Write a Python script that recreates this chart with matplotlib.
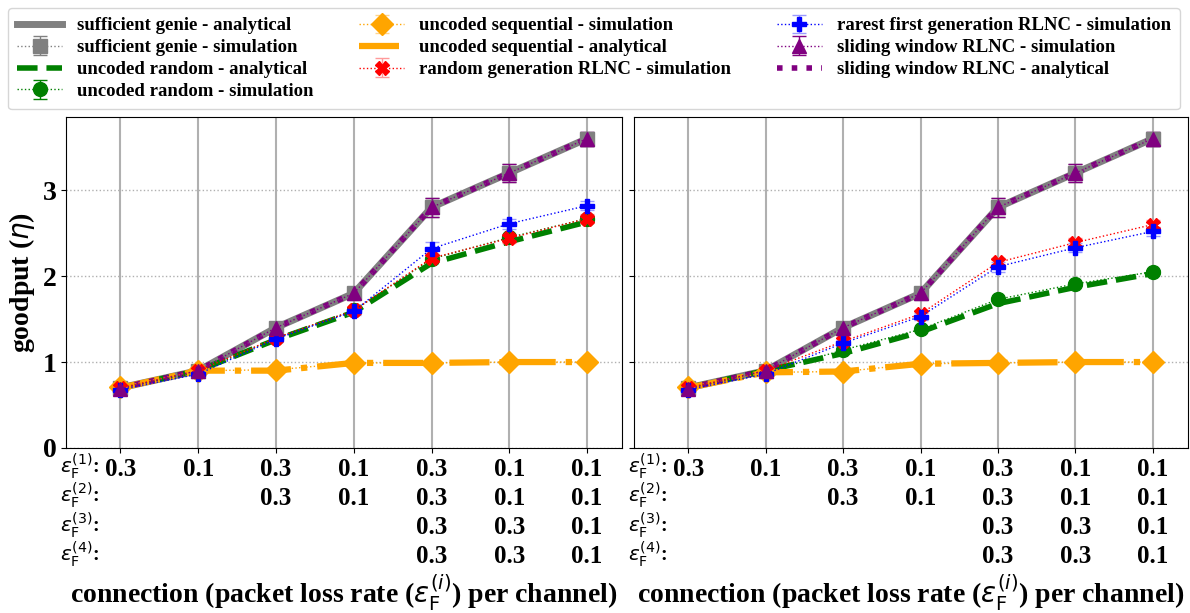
import numpy as np
import matplotlib
matplotlib.use('Agg')
import matplotlib.pyplot as plt

plt.rcParams['font.family'] = ['Liberation Serif', 'DejaVu Serif']
plt.rcParams['mathtext.fontset'] = 'dejavusans'

# connections (one tick per connection, rows = channels)
tick_labels = ['0.3', '0.1', '0.3\n0.3', '0.1\n0.1',
               '0.3\n0.3\n0.3\n0.3', '0.1\n0.1\n0.3\n0.3', '0.1\n0.1\n0.1\n0.1']
row_labels = [r'$\varepsilon_\mathrm{F}^{(1)}$:', r'$\varepsilon_\mathrm{F}^{(2)}$:',
              r'$\varepsilon_\mathrm{F}^{(3)}$:', r'$\varepsilon_\mathrm{F}^{(4)}$:']

# left panel
genie_L = [0.70, 0.90, 1.40, 1.80, 2.80, 3.20, 3.60]
genie_err_L = [0.02, 0.03, 0.05, 0.05, 0.11, 0.10, 0.08]
rand_ana_L = [0.70, 0.90, 1.26, 1.58, 2.15, 2.40, 2.63]
rand_sim_L = [0.70, 0.88, 1.28, 1.60, 2.20, 2.45, 2.67]
seq_sim_L = [0.71, 0.90, 0.91, 0.99, 0.99, 1.00, 1.00]
seq_ana_L = [0.70, 0.90, 0.90, 0.99, 0.99, 1.00, 1.00]
rg_sim_L = [0.70, 0.90, 1.28, 1.60, 2.21, 2.44, 2.67]
rg_err_L = [0.02, 0.03, 0.04, 0.04, 0.05, 0.05, 0.05]
rf_sim_L = [0.68, 0.86, 1.27, 1.59, 2.32, 2.61, 2.82]
rf_err_L = [0.02, 0.03, 0.04, 0.04, 0.08, 0.06, 0.05]
sw_sim_L = [0.69, 0.90, 1.40, 1.80, 2.80, 3.20, 3.60]
sw_ana_L = [0.70, 0.90, 1.40, 1.80, 2.80, 3.20, 3.60]

# right panel
genie_R = [0.70, 0.90, 1.40, 1.80, 2.80, 3.20, 3.60]
genie_err_R = [0.02, 0.03, 0.05, 0.05, 0.11, 0.10, 0.08]
rand_ana_R = [0.70, 0.90, 1.10, 1.35, 1.68, 1.87, 2.03]
rand_sim_R = [0.70, 0.88, 1.14, 1.38, 1.73, 1.91, 2.05]
seq_sim_R = [0.71, 0.88, 0.89, 0.98, 0.99, 1.00, 1.00]
seq_ana_R = [0.70, 0.88, 0.89, 0.98, 0.99, 1.00, 1.00]
rg_sim_R = [0.70, 0.90, 1.24, 1.56, 2.16, 2.39, 2.60]
rg_err_R = [0.02, 0.03, 0.04, 0.04, 0.05, 0.05, 0.05]
rf_sim_R = [0.68, 0.86, 1.22, 1.53, 2.11, 2.33, 2.52]
rf_err_R = [0.02, 0.03, 0.04, 0.04, 0.06, 0.05, 0.05]
sw_sim_R = [0.69, 0.90, 1.40, 1.80, 2.80, 3.20, 3.60]
sw_ana_R = [0.70, 0.90, 1.40, 1.80, 2.80, 3.20, 3.60]

x = np.arange(len(tick_labels))

fig = plt.figure(figsize=(11.9, 6.13), dpi=100)
axL = fig.add_axes([0.0555, 0.2692, 0.4672, 0.5397])
axR = fig.add_axes([0.5328, 0.2692, 0.4652, 0.5397], sharey=axL)


def draw(ax, genie, genie_err, rand_ana, rand_sim, seq_sim, seq_ana,
         rg_sim, rg_err, rf_sim, rf_err, sw_sim, sw_ana):
    h = []
    h += ax.plot(x, genie, color='gray', lw=5, ls='-', label='sufficient genie - analytical')
    h.append(ax.errorbar(x, genie, yerr=genie_err, color='gray', ls=':', lw=1, marker='s',
                         ms=10, capsize=5, label='sufficient genie - simulation'))
    h += ax.plot(x, rand_ana, color='green', lw=4, ls='--', label='uncoded random - analytical')
    h.append(ax.errorbar(x, rand_sim, yerr=0.02, color='green', ls=':', lw=1, marker='o',
                         ms=10, capsize=5, label='uncoded random - simulation'))
    h.append(ax.errorbar(x, seq_sim, yerr=0.02, color='orange', ecolor='#ffd58a', ls=':',
                         lw=1, marker='D', ms=11, capsize=5,
                         label='uncoded sequential - simulation'))
    h += ax.plot(x, seq_ana, color='orange', lw=4.5, ls='-.',
                 label='uncoded sequential - analytical')
    h.append(ax.errorbar(x, rg_sim, yerr=rg_err, color='red', ecolor='#ff9a9a', ls=':', lw=1,
                         marker='X', ms=10, capsize=5,
                         label='random generation RLNC - simulation'))
    h.append(ax.errorbar(x, rf_sim, yerr=rf_err, color='blue', ecolor='#9a9aff', ls=':', lw=1,
                         marker='P', ms=10, capsize=5,
                         label='rarest first generation RLNC - simulation'))
    h.append(ax.errorbar(x, sw_sim, yerr=genie_err, color='purple', ls=':', lw=1, marker='^',
                         ms=10, capsize=5, label='sliding window RLNC - simulation'))
    h += ax.plot(x, sw_ana, color='purple', lw=4, ls=':', label='sliding window RLNC - analytical')

    ax.set_xlim(-0.7, 6.45)
    ax.set_ylim(0, 3.85)
    ax.set_xticks(x)
    ax.set_xticklabels(tick_labels, fontsize=18, fontweight='bold', linespacing=1.33)
    ax.set_yticks([0, 1, 2, 3])
    ax.set_yticklabels(['0', '1', '2', '3'], fontsize=20, fontweight='bold')
    ax.grid(axis='x', color='#b0b0b0', lw=1.5, ls='-')
    ax.grid(axis='y', color='#b0b0b0', lw=1, ls=':')
    ax.set_axisbelow(True)
    ax.set_xlabel(r'connection (packet loss rate ($\varepsilon_\mathrm{F}^{(i)}$) per channel)',
                  fontsize=20, fontweight='bold', va='center')
    ax.xaxis.set_label_coords(0.5, -0.437)
    for i, lab in enumerate(row_labels):
        ax.annotate(lab, xy=(-0.27, 0), xycoords=ax.get_xaxis_transform(),
                    xytext=(0, -13 - 21.2 * i), textcoords='offset points',
                    ha='right', va='center', fontsize=14.5, fontweight='bold')
    return h


hs = draw(axL, genie_L, genie_err_L, rand_ana_L, rand_sim_L, seq_sim_L, seq_ana_L,
          rg_sim_L, rg_err_L, rf_sim_L, rf_err_L, sw_sim_L, sw_ana_L)
draw(axR, genie_R, genie_err_R, rand_ana_R, rand_sim_R, seq_sim_R, seq_ana_R,
     rg_sim_R, rg_err_R, rf_sim_R, rf_err_R, sw_sim_R, sw_ana_R)

axL.set_ylabel(r'goodput ($\eta$)', fontsize=20, fontweight='bold')
axR.tick_params(axis='y', labelleft=False)

fig.legend(hs, [h.get_label() for h in hs], loc='upper left', ncol=3, mode='expand',
           bbox_to_anchor=(0.0067, 0.825, 0.985, 0.162),
           prop={'size': 13.5, 'weight': 'bold'},
           handlelength=2.4, borderaxespad=0, labelspacing=0.25, borderpad=0.5)

fig.savefig('out.png', dpi=100)
